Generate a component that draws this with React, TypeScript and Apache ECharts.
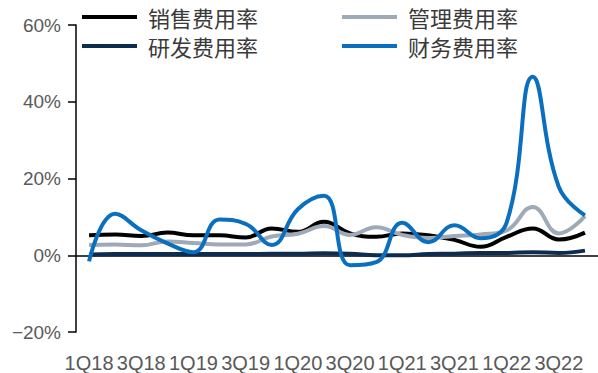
import React, { useEffect, useRef } from "react";
import * as echarts from "echarts";

const categories = [
  "1Q18", "2Q18", "3Q18", "4Q18",
  "1Q19", "2Q19", "3Q19", "4Q19",
  "1Q20", "2Q20", "3Q20", "4Q20",
  "1Q21", "2Q21", "3Q21", "4Q21",
  "1Q22", "2Q22", "3Q22", "4Q22",
];

const salesRate = [5.2, 5.4, 5.0, 5.9, 5.2, 5.2, 4.6, 7.0, 6.1, 8.7, 5.7, 4.8, 5.7, 5.2, 4.0, 2.2, 4.8, 7.0, 4.1, 5.9];
const adminRate = [2.7, 2.8, 2.6, 3.6, 3.2, 2.8, 2.8, 4.9, 5.6, 7.6, 5.3, 7.3, 5.3, 4.5, 5.0, 5.4, 6.5, 12.6, 5.7, 10.2];
const rdRate = [0.2, 0.3, 0.3, 0.3, 0.3, 0.3, 0.3, 0.4, 0.4, 0.5, 0.4, 0.0, 0.0, 0.3, 0.4, 0.6, 0.6, 0.8, 0.6, 1.2];
const financeRate = [-1.6, 10.8, 6.5, 3.1, 0.8, 9.3, 8.2, 2.7, 12.0, 15.5, -2.6, -1.8, 8.5, 3.4, 7.8, 4.4, 8.5, 46.5, 17.8, 10.4];

const yTicks = { min: -20, max: 60, interval: 20 };

const names = ["销售费用率", "管理费用率", "研发费用率", "财务费用率"];
const colors = ["#000000", "#9eaab8", "#0e2c50", "#0b6fbf"];

export default function App() {
  const ref = useRef<HTMLDivElement>(null);
  useEffect(() => {
    if (!ref.current) return;
    const chart = echarts.init(ref.current, null, { renderer: "svg" });
    const legendText = {
      fontSize: 22,
      color: "#3a3a3a",
      fontFamily: "Noto Sans CJK SC",
      padding: [0, 0, 0, 6],
    };
    const seriesData = [salesRate, adminRate, rdRate, financeRate];
    chart.setOption({
      animation: false,
      backgroundColor: "#ffffff",
      grid: { left: 76, top: 25, width: 528, height: 309, containLabel: false },
      legend: [
        {
          data: [names[0], names[2]],
          orient: "vertical",
          left: 82,
          top: 6,
          padding: 0,
          itemGap: 7,
          itemWidth: 55,
          itemHeight: 4,
          icon: "rect",
          textStyle: legendText,
        },
        {
          data: [names[1], names[3]],
          orient: "vertical",
          left: 342,
          top: 6,
          padding: 0,
          itemGap: 7,
          itemWidth: 55,
          itemHeight: 4,
          icon: "rect",
          textStyle: legendText,
        },
      ],
      xAxis: {
        type: "category",
        data: categories,
        boundaryGap: true,
        axisLine: { show: false, onZero: false },
        axisTick: { show: false },
        axisLabel: {
          interval: 1,
          fontSize: 20,
          color: "#595959",
          fontFamily: "Liberation Sans",
          margin: 21,
        },
      },
      yAxis: {
        type: "value",
        min: yTicks.min,
        max: yTicks.max,
        interval: yTicks.interval,
        splitLine: { show: false },
        axisLine: { show: true, lineStyle: { color: "#000000", width: 1.5 } },
        axisTick: { show: true, inside: false, length: 8, lineStyle: { color: "#000000", width: 1.5 } },
        axisLabel: {
          formatter: (v: number) => (v < 0 ? "\u2212" + Math.abs(v) : String(v)) + "%",
          fontSize: 19,
          color: "#595959",
          fontFamily: "Liberation Sans",
          margin: 15,
        },
      },
      series: names.map((n, i) => ({
        name: n,
        type: "line",
        data: seriesData[i],
        smooth: 0.45,
        symbol: "none",
        color: colors[i],
        lineStyle: { width: 4, color: colors[i] },
        z: 3 + i,
        markLine:
          i === 0
            ? {
                silent: true,
                symbol: "none",
                label: { show: false },
                lineStyle: { color: "#000000", width: 1.5, type: "solid" },
                data: [{ yAxis: 0 }],
                z: 1,
              }
            : undefined,
      })),
    });
    return () => chart.dispose();
  }, []);
  return (
    <div
      ref={ref}
      style={{ position: "fixed", left: 0, top: 0, width: 598, height: 373, background: "#fff" }}
    />
  );
}
